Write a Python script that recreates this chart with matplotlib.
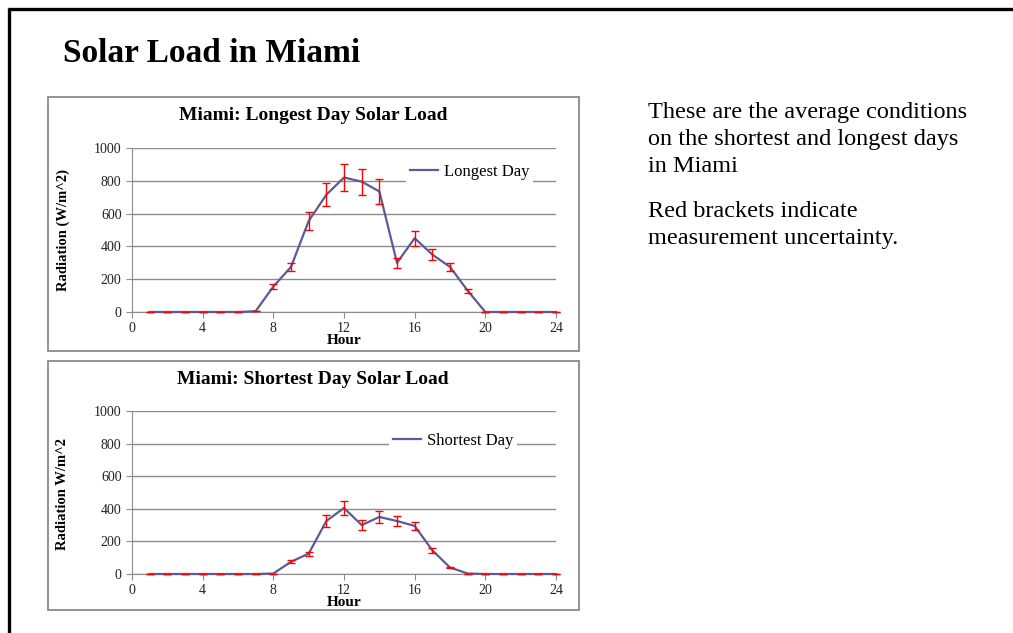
import matplotlib.pyplot as plt
from matplotlib.patches import Rectangle
from matplotlib.lines import Line2D

hours = list(range(1, 25))

longest = [0, 0, 0, 0, 0, 0, 5, 155, 275, 555, 715, 820,
           795, 735, 300, 450, 350, 275, 130, 0, 0, 0, 0, 0]
longest_err = [0, 0, 0, 0, 0, 0, 0, 15, 25, 55, 70, 80,
               80, 75, 30, 45, 35, 25, 12, 0, 0, 0, 0, 0]

shortest = [0, 0, 0, 0, 0, 0, 0, 3, 75, 125, 325, 405,
            300, 350, 325, 295, 145, 40, 3, 0, 0, 0, 0, 0]
shortest_err = [0, 0, 0, 0, 0, 0, 0, 0, 8, 12, 35, 40,
                30, 35, 30, 25, 15, 5, 0, 0, 0, 0, 0, 0]

W, H = 1013, 633
SERIF = "Liberation Serif"
line_col = "#5b5b96"
grid_col = "#8c8c8c"

fig = plt.figure(figsize=(W / 100, H / 100), dpi=100)


def fx(px):
    return px / W


def fy(py):
    return 1 - py / H


# slide border (top and left only)
fig.add_artist(Line2D([fx(8), 1], [fy(9), fy(9)], color="black", lw=2.4,
                      solid_capstyle="butt"))
fig.add_artist(Line2D([fx(9), fx(9)], [fy(8), 0], color="black", lw=2.4,
                      solid_capstyle="butt"))

fig.text(fx(63), fy(53), "Solar Load in Miami", family=SERIF, weight="bold",
         fontsize=24, va="center", ha="left")

fig.text(fx(648), fy(102), "These are the average conditions\non the shortest and longest days\nin Miami",
         family=SERIF, fontsize=17.5, va="top", ha="left", linespacing=1.38)
fig.text(fx(648), fy(201), "Red brackets indicate\nmeasurement uncertainty.",
         family=SERIF, fontsize=17.5, va="top", ha="left", linespacing=1.38)


def panel(box, ax_y, title, title_y, values, errs, ylabel, leg_label, leg_x, leg_y, ylab_y):
    bx0, by0, bx1, by1 = box
    fig.add_artist(Rectangle((fx(bx0), fy(by1)), fx(bx1 - bx0), (by1 - by0) / H,
                             transform=fig.transFigure, fill=False,
                             edgecolor="#8a8a8a", lw=1.3))
    fig.text(fx(313), fy(title_y), title, family=SERIF, weight="bold",
             fontsize=14, ha="center", va="center")
    top, bot = ax_y
    ax = fig.add_axes([fx(132), fy(bot), fx(556 - 132), (bot - top) / H])
    ax.set_xlim(0, 24)
    ax.set_ylim(0, 1000)
    ax.set_xticks(range(0, 25, 4))
    ax.set_yticks(range(0, 1001, 200))
    ax.yaxis.grid(True, color=grid_col, lw=1)
    ax.set_axisbelow(True)
    for s in ["top", "right"]:
        ax.spines[s].set_visible(False)
    for s in ["left", "bottom"]:
        ax.spines[s].set_color(grid_col)
    ax.tick_params(colors=grid_col, length=4, labelsize=10, labelcolor="#222222")
    for lab in ax.get_xticklabels() + ax.get_yticklabels():
        lab.set_family(SERIF)
    ax.plot(hours, values, color=line_col, lw=1.6, label=leg_label, clip_on=False, zorder=3)
    ax.errorbar(hours, values, yerr=errs, fmt="none", ecolor="red", elinewidth=1,
                capsize=3, capthick=1, zorder=4, clip_on=False)
    ax.set_xlabel("Hour", family=SERIF, weight="bold", fontsize=11)
    ax.xaxis.set_label_coords(0.5, -(28 / (bot - top)), transform=ax.transAxes)
    ax.xaxis.label.set_va("center")
    ax.set_ylabel(ylabel, family=SERIF, weight="bold", fontsize=10.5)
    ax.yaxis.set_label_coords((63 - 132) / 424, ylab_y)
    ax.yaxis.label.set_va("center")
    leg = ax.legend(loc="center left",
                    bbox_to_anchor=((leg_x - 132) / 424, (bot - leg_y) / (bot - top)),
                    frameon=True, facecolor="white", edgecolor="none", framealpha=1,
                    fancybox=False, handlelength=1.7, handletextpad=0.35, borderpad=0.2,
                    prop={"family": SERIF, "size": 12})
    leg.get_frame().set_linewidth(0)
    return ax


panel((48, 97, 579, 351), (148, 312), "Miami: Longest Day Solar Load", 115,
      longest, longest_err, "Radiation (W/m^2)", "Longest Day", 398, 172, 0.5)
panel((48, 361, 579, 610), (411, 574), "Miami: Shortest Day Solar Load", 380,
      shortest, shortest_err, "Radiation W/m^2", "Shortest Day", 381, 441, 0.49)

fig.savefig("out.png", dpi=100, facecolor="white")
